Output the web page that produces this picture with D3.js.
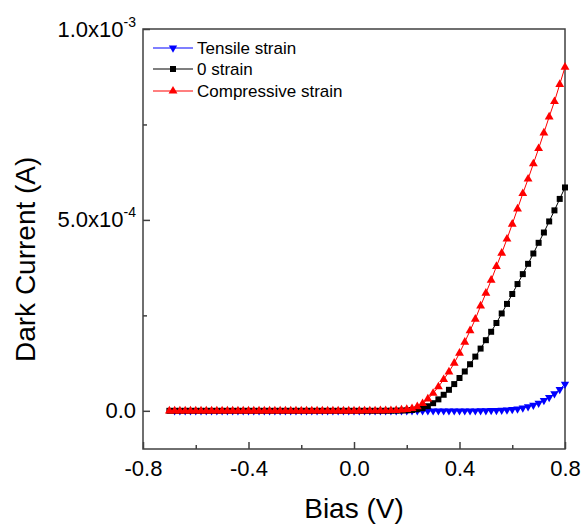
<!DOCTYPE html>
<html>
<head>
<meta charset="utf-8">
<script src="https://cdn.jsdelivr.net/npm/d3@7"></script>
<style>
  html, body { margin: 0; padding: 0; background: #fff; }
  svg { display: block; font-family: Arial, "Liberation Sans", sans-serif; }
</style>
</head>
<body>
<svg id="chart" width="583" height="525"></svg>
<script>
// ---- Data (current values in units of 1e-4 A) ----
const biasMain = [-0.70,-0.68,-0.66,-0.64,-0.62,-0.60,-0.58,-0.56,-0.54,-0.52,-0.50,-0.48,-0.46,-0.44,-0.42,-0.40,-0.38,-0.36,-0.34,-0.32,-0.30,-0.28,-0.26,-0.24,-0.22,-0.20,-0.18,-0.16,-0.14,-0.12,-0.10,-0.08,-0.06,-0.04,-0.02,0.00,0.02,0.04,0.06,0.08,0.10,0.12,0.14,0.16,0.18,0.20,0.22,0.24,0.26,0.28,0.30,0.32,0.34,0.36,0.38,0.40,0.42,0.44,0.46,0.48,0.50,0.52,0.54,0.56,0.58,0.60,0.62,0.64,0.66,0.68,0.70,0.72,0.74,0.76,0.78,0.80];
const biasTensile = [-0.68,-0.66,-0.64,-0.62,-0.60,-0.58,-0.56,-0.54,-0.52,-0.50,-0.48,-0.46,-0.44,-0.42,-0.40,-0.38,-0.36,-0.34,-0.32,-0.30,-0.28,-0.26,-0.24,-0.22,-0.20,-0.18,-0.16,-0.14,-0.12,-0.10,-0.08,-0.06,-0.04,-0.02,0.00,0.02,0.04,0.06,0.08,0.10,0.12,0.14,0.16,0.18,0.20,0.22,0.24,0.26,0.28,0.30,0.32,0.34,0.36,0.38,0.40,0.42,0.44,0.46,0.48,0.50,0.52,0.54,0.56,0.58,0.60,0.62,0.64,0.66,0.68,0.70,0.72,0.74,0.76,0.78,0.80];

const tensileCurrent = [0,0,0,0,0,0,0,0,0,0,0,0,0,0,0,0,0,0,0,0,0,0,0,0,0,0,0,0,0,0,0,0,0,0,0,0,0,0,0,0,0,0,0,0,0,0,0,0,0,0,0,0,0,0,0,0,0,0,0.004,0.006,0.009,0.013,0.018,0.025,0.035,0.05,0.075,0.11,0.15,0.20,0.27,0.35,0.45,0.56,0.70];
const zeroCurrent = [0,0,0,0,0,0,0,0,0,0,0,0,0,0,0,0,0,0,0,0,0,0,0,0,0,0,0,0,0,0,0,0,0,0,0,0,0,0,0,0,0,0.001,0.002,0.004,0.007,0.012,0.022,0.04,0.07,0.12,0.20,0.30,0.42,0.55,0.70,0.86,1.03,1.22,1.42,1.63,1.85,2.07,2.30,2.55,2.80,3.06,3.32,3.58,3.85,4.12,4.40,4.67,4.96,5.25,5.55,5.85];
const compressiveCurrent = [0,0,0,0,0,0,0,0,0,0,0,0,0,0,0,0,0,0,0,0,0,0,0,0,0,0,0,0,0,0,0,0,0,0,0,0,0,0.001,0.001,0.002,0.003,0.005,0.008,0.013,0.022,0.036,0.06,0.11,0.19,0.31,0.46,0.63,0.82,1.02,1.25,1.51,1.80,2.10,2.40,2.75,3.08,3.42,3.78,4.13,4.50,4.89,5.29,5.69,6.07,6.47,6.87,7.28,7.70,8.10,8.55,9.00];

const seriesNames = ["Tensile strain", "0 strain", "Compressive strain"];
const seriesColors = ["#0000ff", "#000000", "#ff0000"];

const xTicks = [-0.8, -0.4, 0.0, 0.4, 0.8];
const xTickLabels = ["-0.8", "-0.4", "0.0", "0.4", "0.8"];
const xMinorTicks = [-0.6, -0.2, 0.2, 0.6];
const yTicks = [0, 5e-4, 1e-3];
const yTickMantissa = ["0.0", "5.0x10", "1.0x10"];
const yTickExponent = ["", "-4", "-3"];
const yMinorTicks = [2.5e-4, 7.5e-4];

// ---- Layout ----
const L = 143, R = 565, T = 29, B = 449;
const svg = d3.select("#chart");
const x = d3.scaleLinear().domain([-0.8, 0.8]).range([L, R]);
const y = d3.scaleLinear().domain([-1e-4, 1e-3]).range([B, T]);

const series = [
  { bias: biasTensile, cur: tensileCurrent, sym: d3.symbolTriangle, rot: 180, size: 30 },
  { bias: biasMain, cur: zeroCurrent, sym: d3.symbolSquare, rot: 0, size: 36 },
  { bias: biasMain, cur: compressiveCurrent, sym: d3.symbolTriangle, rot: 0, size: 34 }
];

// ---- Axes ----
const axisColor = "#404040";
const xAxis = svg.append("g").attr("transform", `translate(0,${B})`)
  .call(d3.axisBottom(x).tickValues(xTicks).tickSize(-7)
        .tickFormat((d, i) => xTickLabels[i]));
const xMinor = svg.append("g").attr("transform", `translate(0,${B})`)
  .call(d3.axisBottom(x).tickValues(xMinorTicks).tickSize(-4).tickFormat(""));
const yAxis = svg.append("g").attr("transform", `translate(${L},0)`)
  .call(d3.axisLeft(y).tickValues(yTicks).tickSize(-7)
        .tickFormat((d, i) => yTickMantissa[i]));
const yMinor = svg.append("g").attr("transform", `translate(${L},0)`)
  .call(d3.axisLeft(y).tickValues(yMinorTicks).tickSize(-4).tickFormat(""));

[xAxis, xMinor, yAxis, yMinor].forEach(g => {
  g.select(".domain").remove();
  g.selectAll(".tick line").attr("stroke", axisColor).attr("stroke-width", 1.5);
});
xAxis.selectAll(".tick text")
  .attr("y", 27).attr("dy", null)
  .attr("font-size", 22).attr("fill", "#000");
yAxis.selectAll(".tick text")
  .attr("x", -7).attr("dy", 7)
  .attr("font-size", 22).attr("fill", "#000")
  .each(function(d, i) {
    if (yTickExponent[i]) {
      d3.select(this).append("tspan")
        .attr("dy", -10).attr("font-size", 14)
        .text(yTickExponent[i]);
    }
  });

// frame
svg.append("rect")
  .attr("x", L).attr("y", T).attr("width", R - L).attr("height", B - T)
  .attr("fill", "none").attr("stroke", axisColor).attr("stroke-width", 1.5);

// titles
svg.append("text")
  .attr("x", (L + R) / 2).attr("y", 518)
  .attr("text-anchor", "middle").attr("font-size", 28).attr("fill", "#000")
  .text("Bias (V)");
svg.append("text")
  .attr("transform", "translate(35,362) rotate(-90)")
  .attr("text-anchor", "start").attr("font-size", 28).attr("fill", "#000")
  .text("Dark Current (A)");

// ---- Series ----
const plot = svg.append("g");
const line = d3.line();
series.forEach((s, k) => {
  const pts = s.bias.map((b, i) => [x(b), y(s.cur[i] * 1e-4)]);
  plot.append("path")
    .attr("d", line(pts))
    .attr("fill", "none").attr("stroke", seriesColors[k]).attr("stroke-width", 1);
  const symPath = d3.symbol().type(s.sym).size(s.size)();
  plot.append("g").selectAll("path").data(pts).join("path")
    .attr("d", symPath)
    .attr("transform", p => `translate(${p[0]},${p[1]}) rotate(${s.rot})`)
    .attr("fill", seriesColors[k]);
});

// ---- Legend ----
const legendRows = [48, 69, 91];
const leg = svg.append("g");
series.forEach((s, k) => {
  const ry = legendRows[k];
  leg.append("line")
    .attr("x1", 153).attr("x2", 193).attr("y1", ry).attr("y2", ry)
    .attr("stroke", seriesColors[k]).attr("stroke-width", 1.2);
  leg.append("path")
    .attr("d", d3.symbol().type(s.sym).size(s.size)())
    .attr("transform", `translate(173,${ry}) rotate(${s.rot})`)
    .attr("fill", seriesColors[k]);
  leg.append("text")
    .attr("x", 197).attr("y", ry + 6)
    .attr("font-size", 17).attr("fill", "#000")
    .text(seriesNames[k]);
});
</script>
</body>
</html>
